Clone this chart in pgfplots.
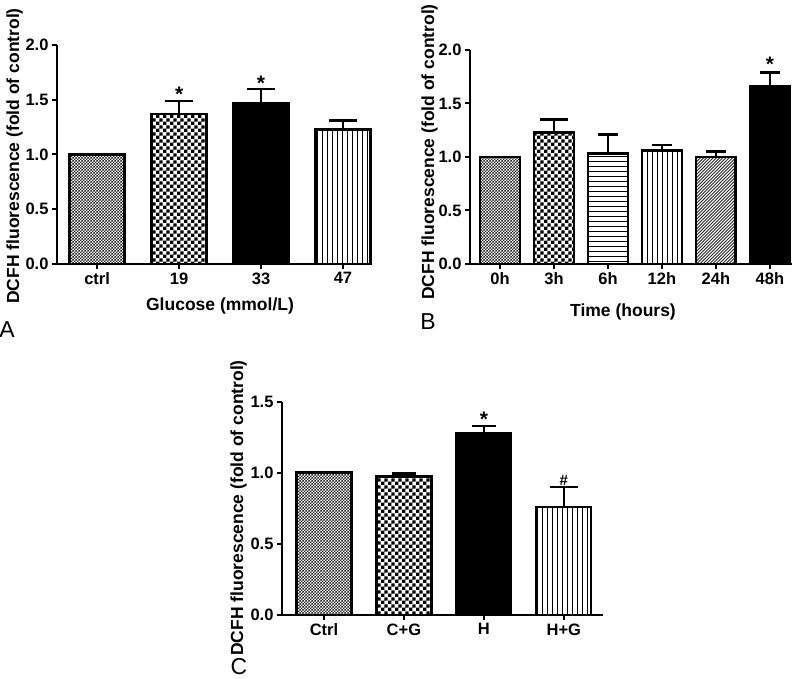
\documentclass[border=0pt]{standalone}
\usepackage{pgfplots}
\pgfplotsset{compat=1.18}
\usepackage{fontspec}
\setmainfont{Liberation Sans}
\usetikzlibrary{patterns}

\pgfdeclarepatternformonly{finecheck}{\pgfpointorigin}{\pgfqpoint{3.4pt}{3.4pt}}{\pgfqpoint{3.4pt}{3.4pt}}{%
  \pgfpathrectangle{\pgfpointorigin}{\pgfqpoint{1.7pt}{1.7pt}}%
  \pgfpathrectangle{\pgfqpoint{1.7pt}{1.7pt}}{\pgfqpoint{1.7pt}{1.7pt}}%
  \pgfusepath{fill}}
\pgfdeclarepatternformonly{bigcheck}{\pgfpointorigin}{\pgfqpoint{6.8pt}{6.8pt}}{\pgfqpoint{6.8pt}{6.8pt}}{%
  \pgfpathrectangle{\pgfpointorigin}{\pgfqpoint{3.4pt}{3.4pt}}%
  \pgfpathrectangle{\pgfqpoint{3.4pt}{3.4pt}}{\pgfqpoint{3.4pt}{3.4pt}}%
  \pgfusepath{fill}}
\pgfdeclarepatternformonly{vlines}{\pgfqpoint{-1pt}{-1pt}}{\pgfqpoint{6pt}{6pt}}{\pgfqpoint{5pt}{5pt}}{%
  \pgfsetlinewidth{1.2pt}%
  \pgfpathmoveto{\pgfqpoint{2.5pt}{-1pt}}\pgfpathlineto{\pgfqpoint{2.5pt}{6pt}}%
  \pgfusepath{stroke}}
\pgfdeclarepatternformonly{hlines}{\pgfqpoint{-1pt}{-1pt}}{\pgfqpoint{6pt}{6pt}}{\pgfqpoint{5pt}{5pt}}{%
  \pgfsetlinewidth{1.2pt}%
  \pgfpathmoveto{\pgfqpoint{-1pt}{2.5pt}}\pgfpathlineto{\pgfqpoint{6pt}{2.5pt}}%
  \pgfusepath{stroke}}
\pgfdeclarepatternformonly{diag}{\pgfqpoint{-1pt}{-1pt}}{\pgfqpoint{4.2pt}{4.2pt}}{\pgfqpoint{3.2pt}{3.2pt}}{%
  \pgfsetlinewidth{0.9pt}%
  \pgfpathmoveto{\pgfqpoint{0pt}{0pt}}\pgfpathlineto{\pgfqpoint{3.3pt}{3.3pt}}%
  \pgfusepath{stroke}}

\newcommand{\tickfont}{\bfseries\fontsize{16.5}{16.5}\selectfont}
\newcommand{\labfont}{\bfseries\fontsize{17.5}{17.5}\selectfont}
\newcommand{\starfont}{\bfseries\fontsize{21}{21}\selectfont}

\pgfplotsset{
  gp/.style={
    scale only axis, anchor=south west,
    axis x line=bottom, axis y line=left,
    axis line style={line width=2.2pt, -},
    every outer x axis line/.append style={-},
    every outer y axis line/.append style={-},
    tick style={line width=2pt, black},
    major tick length=5pt, tick align=outside,
    ymin=0, ytick distance=0.5,
    yticklabel style={/pgf/number format/.cd, fixed, fixed zerofill, precision=1},
    /pgf/number format/assume math mode=true,
    ticklabel style={font=\tickfont},
    clip=false,
  },
  gbar/.style={ybar, bar shift=0pt, draw=black, line width=2.8pt,
    error bars/y dir=plus, error bars/y explicit,
    error bars/error bar style={line width=2.4pt, solid},
    error bars/error mark options={rotate=90, line width=2.4pt, mark size=#1}},
}

\begin{document}
\begin{tikzpicture}[x=1pt,y=1pt]
\useasboundingbox (0,0) rectangle (800,679);

% ---------------- Panel A ----------------
\begin{axis}[gp, at={(57pt,415pt)}, width=313pt, height=219pt,
  xmin=-0.49, xmax=3.33, ymax=2.0,
  xtick={0,1,2,3}, xticklabels={ctrl,19,33,47}]
\addplot[ybar, bar shift=0pt, bar width=0.67, draw=black, line width=2.8pt, pattern=finecheck, pattern color=black!85] coordinates {(0,1.0)};
\addplot[gbar=14pt, bar width=0.67, pattern=bigcheck, pattern color=black] coordinates {(1,1.37) +- (0,0.12)};
\addplot[gbar=14pt, bar width=0.67, fill=black] coordinates {(2,1.47) +- (0,0.13)};
\addplot[gbar=14pt, bar width=0.67, pattern=vlines, pattern color=black] coordinates {(3,1.23) +- (0,0.08)};
\node[font=\starfont, yshift=-5pt] at (axis cs:1,1.60) {*};
\node[font=\starfont, yshift=-5pt] at (axis cs:2,1.70) {*};
\end{axis}

% ---------------- Panel B ----------------
\begin{axis}[gp, at={(470pt,415pt)}, width=322pt, height=214pt,
  xmin=-0.556, xmax=5.41, ymax=2.0,
  xtick={0,1,2,3,4,5}, xticklabels={0h,3h,6h,12h,24h,48h}]
\addplot[ybar, bar shift=0pt, bar width=0.74, draw=black, line width=2.8pt, pattern=finecheck, pattern color=black!85] coordinates {(0,1.0)};
\addplot[gbar=14pt, bar width=0.74, pattern=bigcheck, pattern color=black] coordinates {(1,1.23) +- (0,0.12)};
\addplot[gbar=10pt, bar width=0.74, pattern=hlines, pattern color=black] coordinates {(2,1.03) +- (0,0.18)};
\addplot[gbar=10pt, bar width=0.74, pattern=vlines, pattern color=black] coordinates {(3,1.06) +- (0,0.05)};
\addplot[gbar=10pt, bar width=0.74, pattern=diag, pattern color=black!85] coordinates {(4,1.00) +- (0,0.05)};
\addplot[gbar=10pt, bar width=0.74, fill=black] coordinates {(5,1.66) +- (0,0.13)};
\node[font=\starfont, yshift=-5pt] at (axis cs:5,1.91) {*};
\end{axis}

% ---------------- Panel C ----------------
\begin{axis}[gp, at={(282pt,64pt)}, width=321pt, height=213.3pt,
  xmin=-0.525, xmax=3.49, ymax=1.5,
  xtick={0,1,2,3}, xticklabels={Ctrl,C+G,H,H+G}]
\addplot[ybar, bar shift=0pt, bar width=0.68, draw=black, line width=2.8pt, pattern=finecheck, pattern color=black!85] coordinates {(0,1.0)};
\addplot[gbar=12pt, bar width=0.68, pattern=bigcheck, pattern color=black] coordinates {(1,0.975) +- (0,0.02)};
\addplot[gbar=12pt, bar width=0.68, fill=black] coordinates {(2,1.28) +- (0,0.05)};
\addplot[gbar=14pt, bar width=0.68, pattern=vlines, pattern color=black] coordinates {(3,0.76) +- (0,0.14)};
\node[font=\starfont, yshift=-5pt] at (axis cs:2,1.41) {*};
\node[font=\bfseries\fontsize{15}{15}\selectfont] at (axis cs:3,0.95) {\#};
\end{axis}

% axis labels and panel letters
\node[font=\labfont, rotate=90] at (14.5,523) {DCFH fluorescence (fold of control)};
\node[font=\labfont, rotate=90] at (429.5,527) {DCFH fluorescence (fold of control)};
\node[font=\labfont, rotate=90] at (238.5,171) {DCFH fluorescence (fold of control)};
\node[font=\labfont] at (220,373) {Glucose (mmol/L)};
\node[font=\labfont] at (623,367) {Time (hours)};
\node[font=\fontsize{23}{23}\selectfont] at (7,349) {A};
\node[font=\fontsize{23}{23}\selectfont] at (428,357) {B};
\node[font=\fontsize{23}{23}\selectfont] at (239,12) {C};
\end{tikzpicture}
\end{document}
